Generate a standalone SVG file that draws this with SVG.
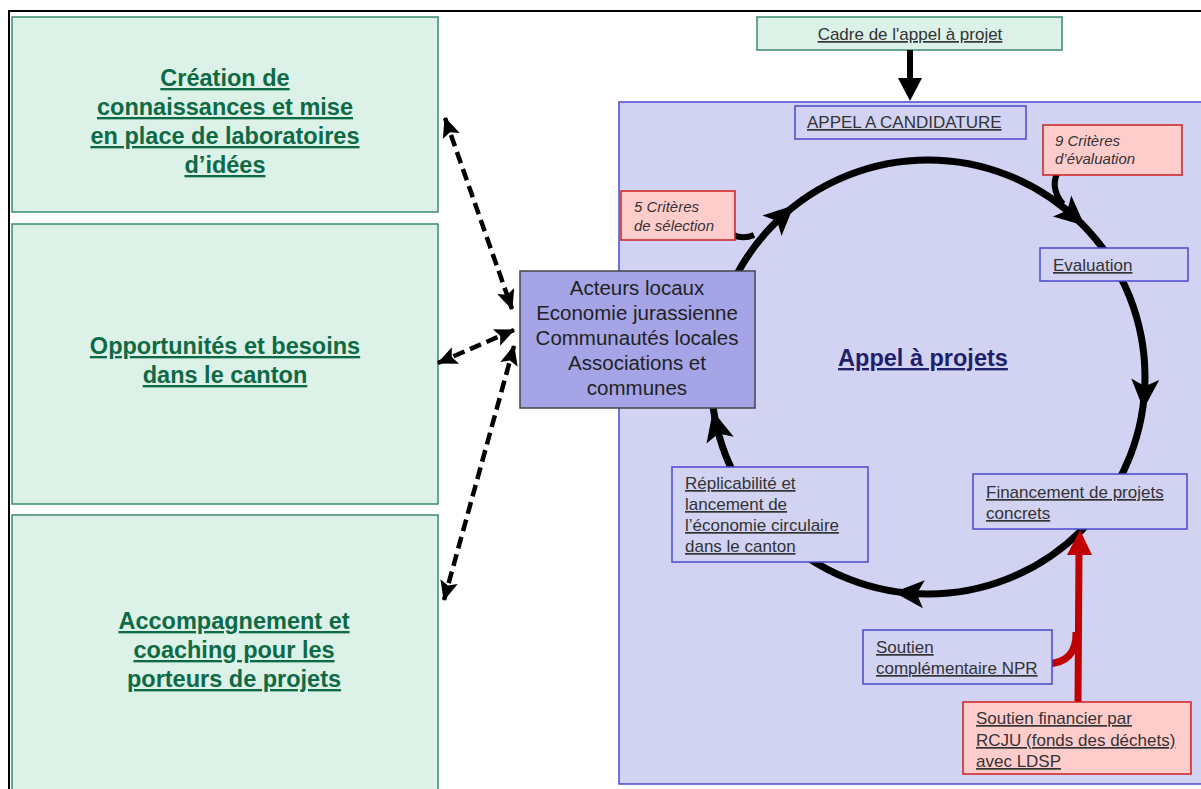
<svg xmlns="http://www.w3.org/2000/svg" xmlns:xlink="http://www.w3.org/1999/xlink" width="1201" height="789" viewBox="0 0 1201 789">
<style>
.green{fill:#dcf1e8;stroke:#3a8a6e;stroke-width:1.5}
.gt{font-family:"Liberation Sans",Arial,sans-serif;font-weight:bold;font-size:23.5px;fill:#0e6a45;text-anchor:middle;text-decoration:underline}
.blue{fill:#d2d2f3;stroke:#4a4ad0;stroke-width:1.5}
.red{fill:#ffcccc;stroke:#d02020;stroke-width:1.5}
.st{font-family:"Liberation Sans",Arial,sans-serif;font-size:17px;fill:#333;text-decoration:underline}
.it{font-family:"Liberation Sans",Arial,sans-serif;font-size:15px;font-style:italic;fill:#333}
.act{font-family:"Liberation Sans",Arial,sans-serif;font-size:20.5px;fill:#222;text-anchor:middle}
.dash{fill:none;stroke:#000;stroke-width:4.5;stroke-dasharray:12 6;marker-start:url(#dh);marker-end:url(#dh)}
</style>
<defs>
<marker id="dh" viewBox="0 0 20 18" refX="19" refY="9" markerWidth="20" markerHeight="18" markerUnits="userSpaceOnUse" orient="auto-start-reverse">
<path d="M0,0 L20,9 L0,18 L4,9 Z" fill="#000"/>
</marker>
<path id="ch" d="M0,19 L-14,-11 L0,-4 L14,-11 Z" fill="#000"/>
</defs>
<rect x="9" y="11" width="1200" height="800" fill="#fff" stroke="#000" stroke-width="2"/>

<g id="n-creation">
<rect class="green" x="12" y="17" width="426" height="195"/>
<text class="gt"><tspan x="225" y="86">Création de</tspan><tspan x="225" y="115">connaissances et mise</tspan><tspan x="225" y="144">en place de laboratoires</tspan><tspan x="225" y="173">d’idées</tspan></text>
</g>
<g id="n-opportunites">
<rect class="green" x="12" y="224" width="426" height="280"/>
<text class="gt"><tspan x="225" y="354">Opportunités et besoins</tspan><tspan x="225" y="383">dans le canton</tspan></text>
</g>
<g id="n-accompagnement">
<rect class="green" x="12" y="515" width="426" height="290"/>
<text class="gt"><tspan x="234" y="629">Accompagnement et</tspan><tspan x="234" y="658">coaching pour les</tspan><tspan x="234" y="687">porteurs de projets</tspan></text>
</g>

<g id="n-panel">
<rect x="619" y="102" width="600" height="682" fill="#d2d2f3" stroke="#4a4ad0" stroke-width="1.5"/>
<text x="923" y="366" font-family="'Liberation Sans',Arial,sans-serif" font-weight="bold" font-size="23.5" fill="#1f1f6b" text-anchor="middle" text-decoration="underline">Appel à projets</text>
</g>

<g id="n-cadre">
<rect class="green" x="757" y="17" width="305" height="33"/>
<text class="st" x="910" y="40" text-anchor="middle" font-size="17.5">Cadre de l'appel à projet</text>
</g>

<g id="connectors">
<path d="M910,50 L910,82" stroke="#000" stroke-width="6" fill="none"/>
<path d="M898,78 L922,78 L910,101 Z" fill="#000"/>
<circle cx="928" cy="377" r="217" fill="none" stroke="#000" stroke-width="7"/>
<use xlink:href="#ch" transform="rotate(-133 928 377) translate(1145 377)"/>
<use xlink:href="#ch" transform="rotate(-49 928 377) translate(1145 377)"/>
<use xlink:href="#ch" transform="rotate(3.5 928 377) translate(1145 377)"/>
<use xlink:href="#ch" transform="rotate(94 928 377) translate(1145 377)"/>
<use xlink:href="#ch" transform="rotate(166 928 377) translate(1145 377)"/>
<path d="M723,228 Q738,242 754,235" stroke="#000" stroke-width="6" fill="none"/>
<path d="M1060,168 Q1048,186 1063,204" stroke="#000" stroke-width="6" fill="none"/>
<path d="M1078,702 L1079,550" stroke="#c00000" stroke-width="7" fill="none"/>
<path d="M1067,555 L1092,555 L1080,530 Z" fill="#c00000"/>
<path d="M1046,664 Q1077,663 1076,632" stroke="#c00000" stroke-width="7" fill="none"/>
<path class="dash" d="M445,118 L512,309"/>
<path class="dash" d="M514,330 L438,363"/>
<path class="dash" d="M514,346 L444,600"/>
</g>

<g id="n-appel">
<rect class="blue" x="795" y="106" width="231" height="33"/>
<text class="st" x="807" y="128">APPEL A CANDIDATURE</text>
</g>
<g id="n-9criteres">
<rect class="red" x="1043" y="125" width="139" height="50"/>
<text class="it"><tspan x="1055" y="146">9 Critères</tspan><tspan x="1055" y="164">d’évaluation</tspan></text>
</g>
<g id="n-5criteres">
<rect class="red" x="621" y="191" width="114" height="49"/>
<text class="it"><tspan x="634" y="212">5 Critères</tspan><tspan x="634" y="231">de sélection</tspan></text>
</g>
<g id="n-evaluation">
<rect class="blue" x="1040" y="248" width="148" height="33"/>
<text class="st" x="1053" y="271">Evaluation</text>
</g>
<g id="n-acteurs">
<rect x="520" y="271" width="235" height="137" fill="#a4a4e6" stroke="#444" stroke-width="1.5"/>
<text class="act"><tspan x="637" y="295">Acteurs locaux</tspan><tspan x="637" y="320">Economie jurassienne</tspan><tspan x="637" y="345">Communautés locales</tspan><tspan x="637" y="370">Associations et</tspan><tspan x="637" y="395">communes</tspan></text>
</g>
<g id="n-replicabilite">
<rect class="blue" x="672" y="467" width="196" height="95"/>
<text class="st"><tspan x="685" y="489">Réplicabilité et</tspan><tspan x="685" y="510">lancement de</tspan><tspan x="685" y="531">l’économie circulaire</tspan><tspan x="685" y="552">dans le canton</tspan></text>
</g>
<g id="n-financement">
<rect class="blue" x="973" y="474" width="214" height="55"/>
<text class="st"><tspan x="986" y="498">Financement de projets</tspan><tspan x="986" y="519">concrets</tspan></text>
</g>
<g id="n-npr">
<rect class="blue" x="863" y="630" width="189" height="54"/>
<text class="st"><tspan x="876" y="653">Soutien</tspan><tspan x="876" y="674">complémentaire NPR</tspan></text>
</g>
<g id="n-rcju">
<rect class="red" x="963" y="702" width="228" height="72"/>
<text class="st"><tspan x="976" y="724">Soutien financier par</tspan><tspan x="976" y="746">RCJU (fonds des déchets)</tspan><tspan x="976" y="767">avec LDSP</tspan></text>
</g>
</svg>
